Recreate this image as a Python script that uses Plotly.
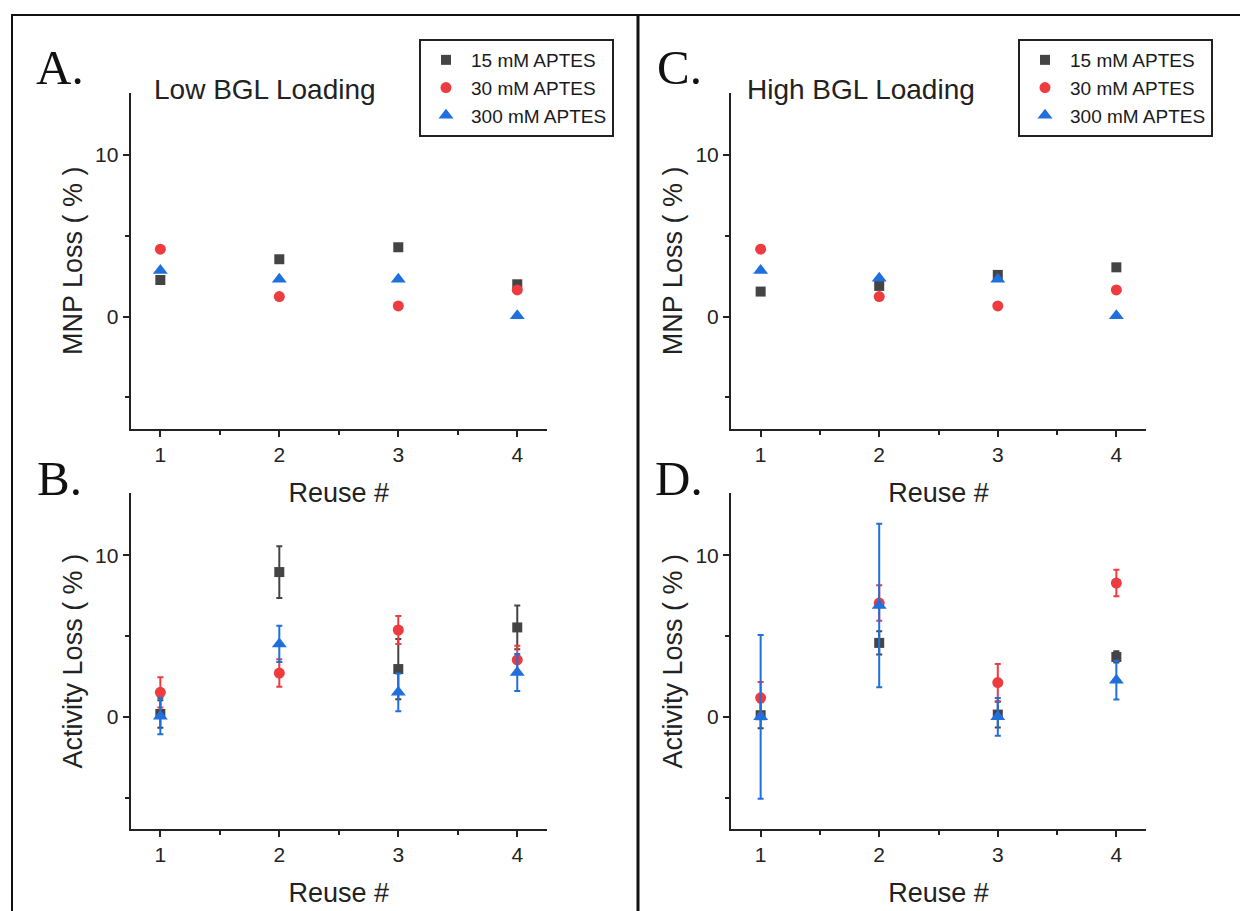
import plotly.graph_objects as go

# page body has an 8px default margin; the figure is drawn in that offset frame
OFF = 8
W, H = 1240, 903

reuse = [1, 2, 3, 4]
series_names = ["15 mM APTES", "30 mM APTES", "300 mM APTES"]

# Panel A: MNP loss, low BGL loading
mnp_low_15 = [2.27, 3.55, 4.29, 2.0]
mnp_low_30 = [4.17, 1.24, 0.66, 1.65]
mnp_low_300 = [2.85, 2.31, 2.31, 0.05]

# Panel C: MNP loss, high BGL loading
mnp_high_15 = [1.55, 1.9, 2.58, 3.05]
mnp_high_30 = [4.17, 1.24, 0.66, 1.65]
mnp_high_300 = [2.85, 2.37, 2.31, 0.05]

# Panel B: activity loss, low BGL loading (value, error)
act_low_15 = [0.18, 8.97, 2.96, 5.54]
act_low_15_err = [0.85, 1.6, 1.87, 1.36]
act_low_30 = [1.52, 2.71, 5.38, 3.53]
act_low_30_err = [0.94, 0.85, 0.87, 0.88]
act_low_300 = [0.04, 4.52, 1.52, 2.75]
act_low_300_err = [1.12, 1.13, 1.17, 1.15]

# Panel D: activity loss, high BGL loading (value, error)
act_high_15 = [0.1, 4.58, 0.14, 3.71]
act_high_15_err = [0.8, 0.72, 0.8, 0.35]
act_high_30 = [1.18, 7.05, 2.12, 8.29]
act_high_30_err = [0.98, 1.1, 1.15, 0.82]
act_high_300 = [0.0, 6.9, 0.0, 2.27]
act_high_300_err = [5.07, 5.07, 1.17, 1.2]

colors = ["#444444", "#EE3B3F", "#1F6FDD"]
symbols = ["square", "circle", "triangle-up"]
sizes = [10, 11, 13]

FONT = "Liberation Sans, Arial, sans-serif"
TXT = "#222222"

fig = go.Figure()


def add_panel(xa, ya, vals, errs=None, legend=None):
    for i in range(3):
        kw = {}
        if errs is not None:
            kw["error_y"] = dict(type="data", array=errs[i], visible=True,
                                 color=colors[i], thickness=2, width=3)
        fig.add_trace(go.Scatter(
            x=reuse, y=vals[i], mode="markers", name=series_names[i],
            marker=dict(symbol=symbols[i], size=sizes[i], color=colors[i],
                        line=dict(width=0)),
            xaxis=xa, yaxis=ya,
            showlegend=legend is not None,
            legend=legend if legend else "legend",
            **kw))


add_panel("x", "y", [mnp_low_15, mnp_low_30, mnp_low_300], legend="legend")
add_panel("x2", "y2", [mnp_high_15, mnp_high_30, mnp_high_300], legend="legend2")
add_panel("x3", "y3", [act_low_15, act_low_30, act_low_300],
          errs=[act_low_15_err, act_low_30_err, act_low_300_err])
add_panel("x4", "y4", [act_high_15, act_high_30, act_high_300],
          errs=[act_high_15_err, act_high_30_err, act_high_300_err])


def px_x(p):
    return (p - OFF) / W


def px_y(p):
    return 1 - (p - OFF) / H


left_dom = [px_x(130.6), px_x(547)]
right_dom = [px_x(731), px_x(1146)]
top_dom = [px_y(429), px_y(92.7)]
bot_dom = [px_y(829), px_y(493.3)]

xcommon = dict(range=[0.75, 4.25], tick0=1, dtick=1, ticks="outside", ticklen=6,
               tickwidth=1.5, tickcolor=TXT, showline=True, linecolor=TXT, linewidth=2,
               showgrid=False, zeroline=False,
               minor=dict(dtick=0.5, ticks="outside", ticklen=4, tickcolor=TXT, tickwidth=1.5),
               tickfont=dict(family=FONT, size=21, color=TXT),
               title=dict(text="Reuse #", font=dict(family=FONT, size=27, color=TXT), standoff=18))
ycommon = dict(range=[-6.95, 13.85], tick0=0, dtick=10, ticks="outside", ticklen=6,
               tickwidth=1.5, tickcolor=TXT, showline=True, linecolor=TXT, linewidth=2,
               showgrid=False, zeroline=False,
               minor=dict(dtick=5, ticks="outside", ticklen=4, tickcolor=TXT, tickwidth=1.5),
               tickfont=dict(family=FONT, size=21, color=TXT))

ytitle_font = dict(family=FONT, size=27, color=TXT)
fig.update_layout(
    xaxis=dict(domain=left_dom, anchor="y", **xcommon),
    xaxis2=dict(domain=right_dom, anchor="y2", **xcommon),
    xaxis3=dict(domain=left_dom, anchor="y3", **xcommon),
    xaxis4=dict(domain=right_dom, anchor="y4", **xcommon),
    yaxis=dict(domain=top_dom, anchor="x",
               title=dict(text="MNP Loss ( % )", font=ytitle_font, standoff=5), **ycommon),
    yaxis2=dict(domain=top_dom, anchor="x2",
                title=dict(text="MNP Loss ( % )", font=ytitle_font, standoff=5), **ycommon),
    yaxis3=dict(domain=bot_dom, anchor="x3",
                title=dict(text="Activity Loss ( % )", font=ytitle_font, standoff=5), **ycommon),
    yaxis4=dict(domain=bot_dom, anchor="x4",
                title=dict(text="Activity Loss ( % )", font=ytitle_font, standoff=5), **ycommon),
)

legend_common = dict(bgcolor="white", bordercolor=TXT, borderwidth=2,
                     font=dict(family=FONT, size=19, color="#1a1a1a"),
                     xanchor="left", yanchor="top", itemwidth=40,
                     tracegroupgap=0)
fig.update_layout(
    legend=dict(x=px_x(419), y=px_y(39), **legend_common),
    legend2=dict(x=px_x(1018), y=px_y(39), **legend_common),
)

annotations = []
for lab, x, y in [("A.", 34, 68), ("B.", 35, 478), ("C.", 655, 68), ("D.", 653, 478)]:
    annotations.append(dict(text=lab, x=px_x(x), y=px_y(y), xref="paper", yref="paper",
                            xanchor="left", yanchor="middle", showarrow=False,
                            font=dict(family="Liberation Serif, Times New Roman, serif", size=49, color="#111111")))
for lab, x in [("Low BGL Loading", 152), ("High BGL Loading", 745)]:
    annotations.append(dict(text=lab, x=px_x(x), y=px_y(89), xref="paper", yref="paper",
                            xanchor="left", yanchor="middle", showarrow=False,
                            font=dict(family=FONT, size=28, color=TXT)))
fig.update_layout(annotations=annotations)

shapes = [
    dict(type="line", xref="paper", yref="paper", x0=px_x(11), x1=1, y0=px_y(15), y1=px_y(15),
         line=dict(color="#111111", width=2)),
    dict(type="line", xref="paper", yref="paper", x0=px_x(12), x1=px_x(12), y0=px_y(15), y1=0,
         line=dict(color="#111111", width=2)),
    dict(type="line", xref="paper", yref="paper", x0=px_x(638), x1=px_x(638), y0=px_y(15), y1=0,
         line=dict(color="#111111", width=3)),
]
fig.update_layout(shapes=shapes)

fig.update_layout(width=W, height=H, autosize=False, margin=dict(l=0, r=0, t=0, b=0),
                  paper_bgcolor="white", plot_bgcolor="white")

fig.write_html("out.html")
